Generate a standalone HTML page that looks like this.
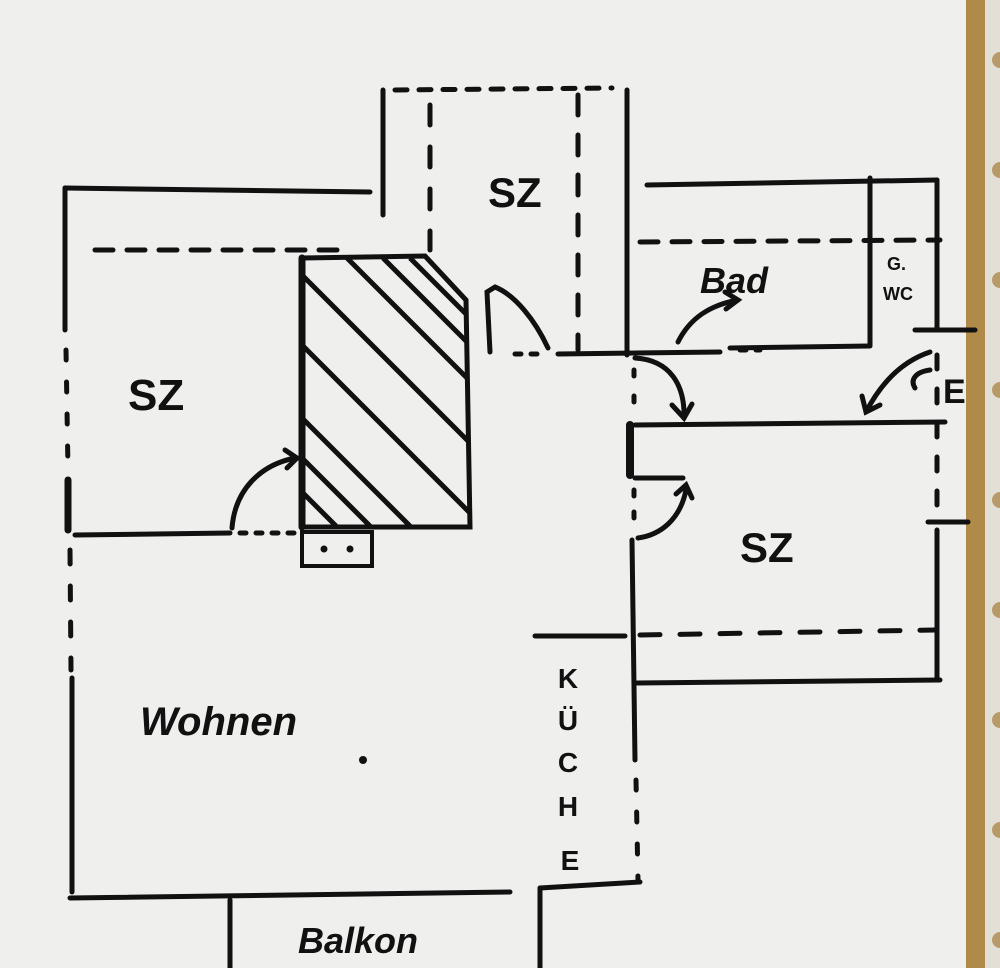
<!DOCTYPE html>
<html><head><meta charset="utf-8"><style>
html,body{margin:0;padding:0;background:#efefef;}
svg{display:block}
text{font-family:"Liberation Sans",sans-serif;font-weight:bold;fill:#111}
</style></head><body>
<svg width="1000" height="968" viewBox="0 0 1000 968" xmlns="http://www.w3.org/2000/svg">
<rect width="1000" height="968" fill="#efefed"/>
<rect x="966" y="0" width="19" height="968" fill="#b08a48"/>
<rect x="985" y="0" width="15" height="968" fill="#e4dfd6"/>
<g fill="#b89a6a">
<circle cx="1000" cy="60" r="8"/><circle cx="1000" cy="170" r="8"/><circle cx="1000" cy="280" r="8"/><circle cx="1000" cy="390" r="8"/><circle cx="1000" cy="500" r="8"/><circle cx="1000" cy="610" r="8"/><circle cx="1000" cy="720" r="8"/><circle cx="1000" cy="830" r="8"/><circle cx="1000" cy="940" r="8"/>
</g>
<g stroke="#111" stroke-width="5" fill="none" stroke-linecap="round">
<line x1="65" y1="188" x2="370" y2="192"/>
<line x1="65" y1="188" x2="65" y2="330"/>
<line x1="95" y1="250" x2="340" y2="250" stroke-dasharray="18,14"/>
<line x1="66" y1="350" x2="68" y2="470" stroke-dasharray="10,22"/>
<line x1="68" y1="480" x2="68" y2="530" stroke-width="7"/>
<line x1="70" y1="550" x2="71" y2="670" stroke-dasharray="14,22"/>
<line x1="72" y1="678" x2="72" y2="892"/>
<line x1="75" y1="535" x2="230" y2="533"/>
<line x1="240" y1="533" x2="298" y2="533" stroke-dasharray="6,10"/>
<path d="M232 528 C235 490 260 465 295 458"/>
<path d="M285 450 L297 458 L287 468"/>
<line x1="70" y1="898" x2="510" y2="892"/>
<line x1="230" y1="900" x2="230" y2="968"/>
<line x1="540" y1="888" x2="640" y2="882"/>
<line x1="540" y1="888" x2="540" y2="968"/>
<path d="M302 258 L425 256 L466 300 L470 527 L302 527 Z"/>
<line x1="302" y1="258" x2="302" y2="527" stroke-width="7"/>
</g>
<clipPath id="c"><path d="M302 258 L425 256 L466 300 L470 527 L302 527 Z"/></clipPath>
<g clip-path="url(#c)" stroke="#111" stroke-width="5">
<line x1="347" y1="258" x2="647" y2="558"/>
<line x1="383" y1="258" x2="683" y2="558"/>
<line x1="410" y1="258" x2="710" y2="558"/>
<line x1="302" y1="275" x2="602" y2="575"/>
<line x1="302" y1="345" x2="602" y2="645"/>
<line x1="302" y1="418" x2="602" y2="718"/>
<line x1="302" y1="458" x2="602" y2="758"/>
<line x1="302" y1="492" x2="602" y2="792"/>
</g>
<g stroke="#111" stroke-width="5" fill="none" stroke-linecap="round">
<rect x="302" y="532" width="70" height="34" stroke-width="4"/>
<line x1="383" y1="90" x2="383" y2="215"/>
<line x1="395" y1="90" x2="612" y2="88" stroke-dasharray="12,12"/>
<line x1="627" y1="90" x2="627" y2="355"/>
<line x1="430" y1="105" x2="430" y2="250" stroke-dasharray="20,22"/>
<line x1="578" y1="95" x2="578" y2="350" stroke-dasharray="20,20"/>
<path d="M490 352 L487 292 L495 287 C515 295 535 320 548 348"/>
<line x1="515" y1="354" x2="545" y2="354" stroke-dasharray="6,10"/>
<line x1="558" y1="354" x2="720" y2="352"/>
<line x1="740" y1="350" x2="760" y2="350" stroke-dasharray="6,10"/>
<line x1="647" y1="185" x2="937" y2="180"/>
<line x1="937" y1="180" x2="937" y2="330"/>
<line x1="640" y1="242" x2="940" y2="240" stroke-dasharray="18,14"/>
<line x1="870" y1="178" x2="870" y2="345"/>
<line x1="730" y1="348" x2="870" y2="346"/>
<line x1="915" y1="330" x2="975" y2="330"/>
<path d="M678 342 C690 318 710 305 738 300"/>
<path d="M725 292 L738 300 L726 309"/>
<path d="M635 358 C670 360 685 385 684 418"/>
<path d="M672 405 L684 418 L692 404"/>
<path d="M930 352 C900 362 880 385 866 412"/>
<path d="M862 396 L866 412 L880 405"/>
<path d="M930 370 C915 372 910 380 915 388"/>
<line x1="635" y1="425" x2="945" y2="422"/>
<line x1="630" y1="425" x2="630" y2="475" stroke-width="8"/>
<line x1="635" y1="478" x2="683" y2="478"/>
<path d="M638 538 C660 535 680 520 686 490"/>
<path d="M676 494 L686 485 L692 498"/>
<line x1="937" y1="355" x2="937" y2="515" stroke-dasharray="14,20"/>
<line x1="928" y1="522" x2="968" y2="522"/>
<line x1="937" y1="530" x2="937" y2="680"/>
<line x1="637" y1="683" x2="940" y2="680"/>
<line x1="640" y1="635" x2="935" y2="630" stroke-dasharray="20,20"/>
<line x1="632" y1="540" x2="635" y2="760"/>
<line x1="634" y1="370" x2="634" y2="420" stroke-dasharray="6,20"/>
<line x1="634" y1="490" x2="634" y2="530" stroke-dasharray="6,16"/>
<line x1="636" y1="780" x2="638" y2="880" stroke-dasharray="10,22"/>
<line x1="535" y1="636" x2="625" y2="636"/>
</g>
<circle cx="324" cy="549" r="3.5" fill="#111"/><circle cx="350" cy="549" r="3.5" fill="#111"/>
<circle cx="363" cy="760" r="4" fill="#111"/>
<text x="128" y="410" font-size="44">SZ</text>
<text x="488" y="207" font-size="42">SZ</text>
<text x="740" y="562" font-size="42">SZ</text>
<text x="700" y="293" font-size="36" font-style="italic">Bad</text>
<text x="887" y="270" font-size="18">G.</text>
<text x="883" y="300" font-size="18">WC</text>
<text x="943" y="403" font-size="34">E</text>
<text x="140" y="735" font-size="40" font-style="italic">Wohnen</text>
<text x="298" y="953" font-size="36" font-style="italic">Balkon</text>
<g font-size="28" text-anchor="middle">
<text x="568" y="688">K</text><text x="568" y="730">Ü</text><text x="568" y="772">C</text><text x="568" y="816">H</text><text x="570" y="870">E</text>
</g>
</svg>
</body></html>
